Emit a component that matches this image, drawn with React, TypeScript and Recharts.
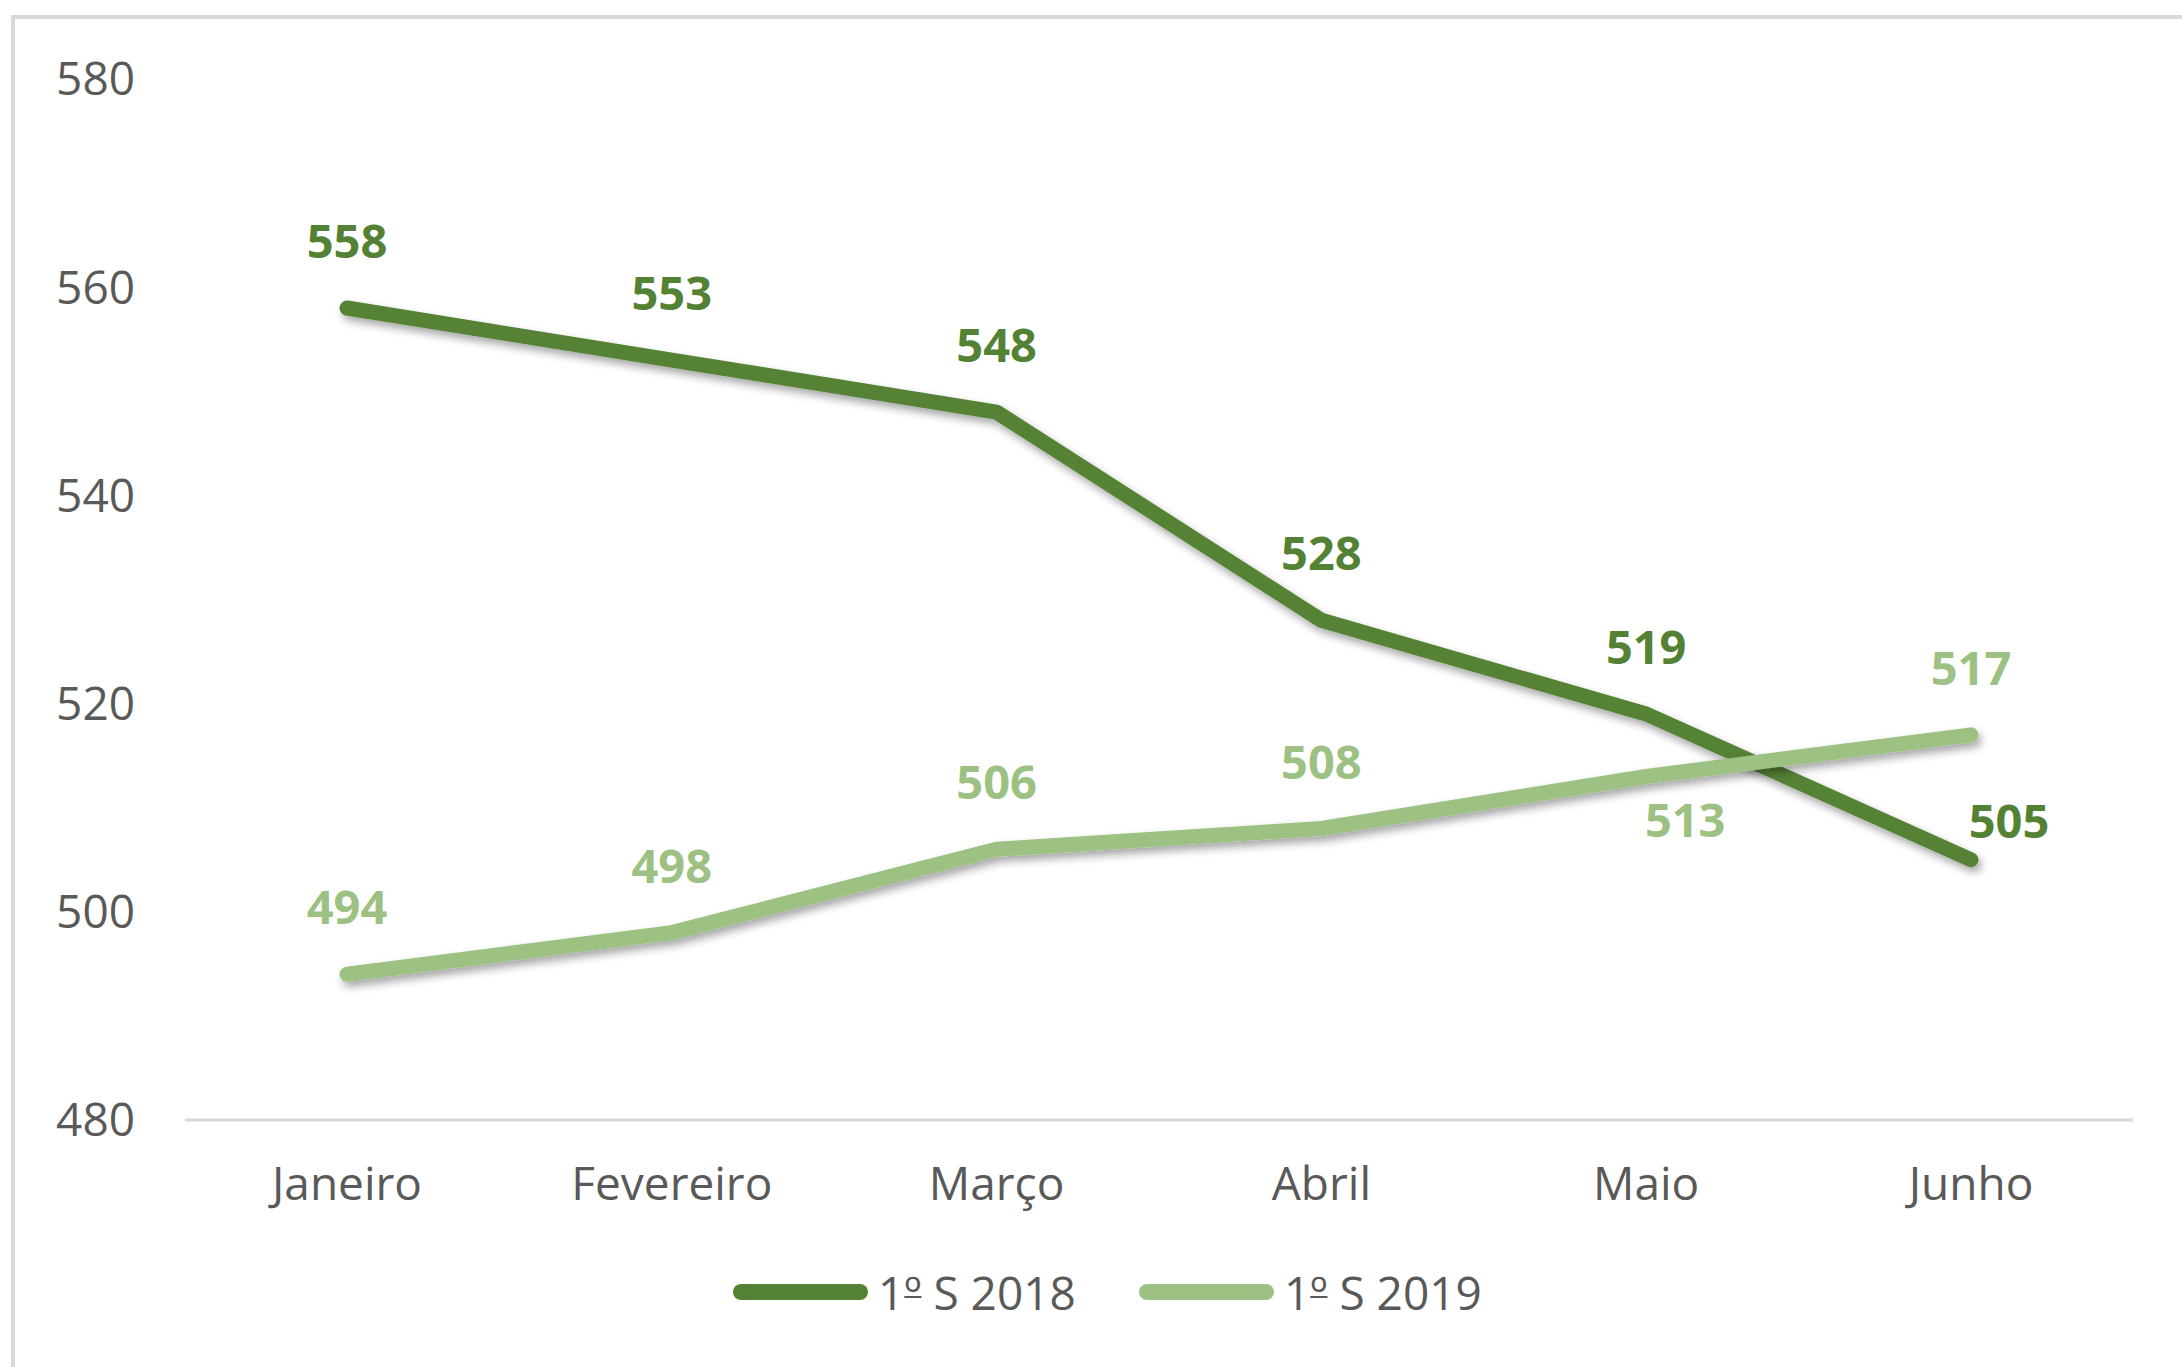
import { LineChart, Line, XAxis, YAxis, Legend, LabelList } from 'recharts';

const meses = ['Janeiro', 'Fevereiro', 'Março', 'Abril', 'Maio', 'Junho'];
const s2018 = [558, 553, 548, 528, 519, 505];
const s2019 = [494, 498, 506, 508, 513, 517];
const yTicks = [480, 500, 520, 540, 560, 580];

const series = [
  { key: 's2018', name: '1º S 2018', color: '#548235' },
  { key: 's2019', name: '1º S 2019', color: '#9DC183' },
];

const data = meses.map((mes, i) => ({ mes, s2018: s2018[i], s2019: s2019[i] }));

const FONT = '"Open Sans", "Noto Sans", sans-serif';

// where each data label sits relative to its point
const place2018 = ['top', 'top', 'top', 'top', 'top', 'right'];
const place2019 = ['top', 'top', 'top', 'top', 'below', 'top'];

function makeLabel(color: string, places: string[]) {
  return (props: any) => {
    const { x, y, value, index } = props;
    const p = places[index];
    let lx = x;
    let ly = y - 68;
    if (p === 'right') {
      lx = x + 38;
      ly = y - 40;
    } else if (p === 'below') {
      lx = x + 39;
      ly = y + 43;
    }
    return (
      <text
        key={`lbl-${index}`}
        x={lx}
        y={ly}
        fill={color}
        fontSize={47}
        fontWeight={700}
        fontFamily={FONT}
        textAnchor="middle"
        dominantBaseline="central"
      >
        {value}
      </text>
    );
  };
}

// the ordinal sign is drawn underlined, as in the original
function SeriesName({ name }: { name: string }) {
  const k = name.indexOf('º');
  if (k < 0) return <>{name}</>;
  return (
    <>
      {name.slice(0, k)}
      <span style={{ textDecoration: 'underline', textDecorationThickness: 2, textUnderlineOffset: -14 }}>º</span>
      {name.slice(k + 1)}
    </>
  );
}

function LegendBox() {
  return (
    <div style={{ height: 60, display: 'flex', alignItems: 'center', paddingLeft: 733, fontFamily: FONT }}>
      {series.map((s, i) => (
        <div key={s.key} style={{ display: 'flex', alignItems: 'center', marginRight: i === 0 ? 54 : 0 }}>
          <div style={{ width: 135, height: 16, borderRadius: 8, background: s.color }} />
          <span
            style={{
              marginLeft: 10,
              fontSize: 46,
              lineHeight: '60px',
              color: '#595959',
              display: 'inline-block',
              width: 207,
              whiteSpace: 'nowrap',
            }}
          >
            <SeriesName name={s.name} />
          </span>
        </div>
      ))}
    </div>
  );
}

export default function App() {
  return (
    <div style={{ position: 'absolute', left: 0, top: 0, width: 2182, height: 1367, overflow: 'hidden', background: '#fff' }}>
      <div
        style={{
          position: 'absolute',
          left: 11,
          top: 15,
          width: 2300,
          height: 1500,
          borderLeft: '4px solid #d9d9d9',
          borderTop: '4px solid #d9d9d9',
        }}
      />
      <div style={{ position: 'absolute', left: 0, top: 0 }}>
        <LineChart width={2182} height={1367} data={data} margin={{ top: 79, right: 49, left: 0, bottom: 45 }}>
          <defs>
            <filter id="sombra" x="-5%" y="-20%" width="115%" height="160%">
              <feDropShadow dx="3" dy="5" stdDeviation="4" floodColor="#000" floodOpacity="0.35" />
            </filter>
          </defs>
          <XAxis
            dataKey="mes"
            padding={{ left: 162, right: 162 }}
            axisLine={{ stroke: '#d9d9d9', strokeWidth: 3 }}
            tickLine={false}
            tickSize={0}
            tickMargin={47}
            height={142}
            tick={{ fill: '#595959', fontSize: 46, fontFamily: FONT }}
          />
          <YAxis
            domain={[480, 580]}
            ticks={yTicks}
            width={185}
            axisLine={false}
            tickLine={false}
            tickSize={0}
            tickMargin={50}
            tick={{ fill: '#595959', fontSize: 46, fontFamily: FONT }}
          />
          <Legend verticalAlign="bottom" content={() => <LegendBox />} />
          {series.map((s, i) => (
            <Line
              key={s.key}
              dataKey={s.key}
              name={s.name}
              stroke={s.color}
              strokeWidth={15}
              strokeLinecap="round"
              strokeLinejoin="round"
              dot={false}
              activeDot={false}
              filter="url(#sombra)"
              isAnimationActive={false}
            >
              <LabelList dataKey={s.key} content={makeLabel(s.color, i === 0 ? place2018 : place2019)} />
            </Line>
          ))}
        </LineChart>
      </div>
    </div>
  );
}
